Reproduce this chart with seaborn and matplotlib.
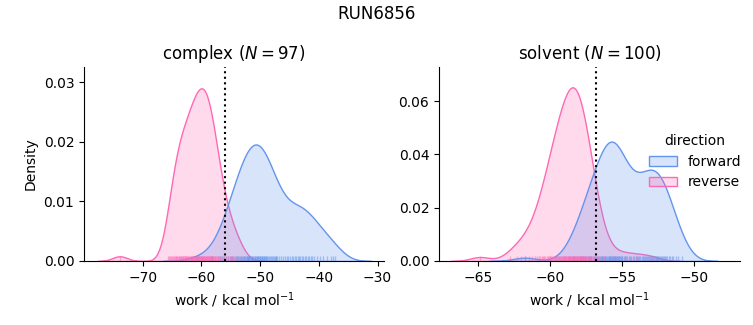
import numpy as np
import pandas as pd
import matplotlib
matplotlib.use("Agg")
import matplotlib.pyplot as plt
import seaborn as sns

# ---- data (work values, kcal/mol) ----
complex_reverse = [
    -73.9,
    -65.62, -65.45, -65.28, -65.11, -64.95, -64.78,
    -64.64, -64.52, -64.39, -64.27, -64.13, -64.01, -63.88, -63.76,
    -63.65, -63.54, -63.43, -63.31, -63.2, -63.08, -62.97, -62.86, -62.75,
    -62.66, -62.55, -62.45, -62.36, -62.24, -62.15, -61.94, -61.84, -61.74,
    -61.66, -61.58, -61.49, -61.41, -61.33, -61.24, -61.16, -61.08, -60.99, -60.91, -60.83, -60.74,
    -60.67, -60.53, -60.46, -60.39, -60.32, -60.18, -60.11, -60.04, -59.96, -59.89, -59.82, -59.75,
    -59.66, -59.57, -59.49, -59.41, -59.32, -59.24, -59.16, -59.07, -58.99, -58.91, -58.82, -58.74,
    -58.64, -58.6, -58.53, -58.42, -58.31, -58.25, -58.2, -58.09, -57.98, -57.87, -57.76,
    -57.62, -57.45, -57.28, -57.2, -57.11, -56.95, -56.78,
    -56.58, -56.33, -56.08, -55.83,
    -55.53, -55.2, -54.87,
    -54.45, -53.95,
    -53.2,
]
complex_forward = [
    -60.5, -58.2,
    -56.8, -56.45, -56.1, -55.8, -55.5, -55.2,
    -54.9, -54.72, -54.55, -54.36, -54.18, -54.0, -53.82, -53.64, -53.45, -53.27, -53.09,
    -52.94, -52.81, -52.69, -52.56, -52.44, -52.31, -52.19, -52.06, -52.0,
    -51.94, -51.81, -51.69, -51.56, -51.44, -51.31, -51.19, -51.06,
    -50.94, -50.83, -50.72, -50.61, -50.5, -50.39, -50.28, -50.17, -50.06,
    -49.94, -49.83, -49.72, -49.61, -49.5, -49.39, -49.28, -49.17, -49.06,
    -48.92, -48.77, -48.62, -48.46, -48.31, -48.15, -48.0, -47.85, -47.69, -47.54, -47.38, -47.23, -47.08,
    -46.83, -46.5, -46.17, -45.83, -45.5, -45.17,
    -44.88, -44.63, -44.38, -44.13, -43.88, -43.63, -43.38, -43.13,
    -42.88, -42.63, -42.38, -42.13, -41.88, -41.63, -41.38, -41.13,
    -40.75, -40.25, -39.75, -39.25,
    -38.67, -38.0, -37.6, -37.2,
]
solvent_reverse = [
    -64.85,
    -62.8, -62.3,
    -61.98, -61.72, -61.48, -61.22,
    -61.04, -60.91, -60.79, -60.66,
    -60.56, -60.48, -60.39, -60.31, -60.23, -60.14,
    -60.07, -60.02, -59.96, -59.91, -59.85, -59.79, -59.74, -59.68, -59.63,
    -59.58, -59.53, -59.49, -59.44, -59.4, -59.35, -59.3, -59.26, -59.21, -59.17, -59.12,
    -59.08, -59.04, -59.0, -58.97, -58.93, -58.89, -58.85, -58.81, -58.77, -58.73, -58.7, -58.66, -58.62,
    -58.58, -58.54, -58.5, -58.47, -58.45, -58.43, -58.39, -58.37, -58.35, -58.31, -58.27, -58.23, -58.2, -58.16, -58.12,
    -58.08, -58.05, -58.01, -57.98, -57.94, -57.9, -57.87, -57.83, -57.8, -57.76, -57.73, -57.69, -57.65, -57.62,
    -57.58, -57.53, -57.48, -57.43, -57.38, -57.33, -57.28, -57.23, -57.18, -57.13,
    -57.05, -56.95, -56.85, -56.75, -56.65,
    -56.48, -56.23,
    -55.5, -54.8, -54.0, -53.0,
]
solvent_forward = [
    -61.75,
    -58.7,
    -58.35, -58.12,
    -57.94, -57.81, -57.69, -57.56,
    -57.46, -57.38, -57.29, -57.21, -57.13, -57.04,
    -56.96, -56.89, -56.82, -56.75, -56.68, -56.61, -56.54,
    -56.47, -56.41, -56.36, -56.3, -56.25, -56.19, -56.14, -56.08, -56.03,
    -55.97, -55.92, -55.87, -55.82, -55.8, -55.77, -55.72, -55.67, -55.62, -55.57, -55.52,
    -55.47, -55.45, -55.42, -55.37, -55.32, -55.27, -55.22, -55.17, -55.12, -55.07, -55.02,
    -54.96, -54.88, -54.79, -54.71, -54.63, -54.54,
    -54.46, -54.38, -54.21, -54.13, -54.04,
    -53.96, -53.88, -53.79, -53.71, -53.63, -53.54,
    -53.46, -53.39, -53.32, -53.25, -53.18, -53.11, -53.04,
    -52.97, -52.91, -52.84, -52.78, -52.72, -52.66, -52.59, -52.53,
    -52.47, -52.41, -52.34, -52.28, -52.22, -52.16, -52.09, -52.03,
    -51.95, -51.85, -51.75, -51.65, -51.55,
    -51.42, -51.25, -51.08,
    -50.8,
]
phases = ["complex", "solvent"]
n_pairs = [97, 100]
dg_estimates = [-56.0, -56.8]
directions = ["forward", "reverse"]
colors = ["cornflowerblue", "hotpink"]
suptitle = "RUN6856"

frames = []
for phase, fwd, rev in [("complex", complex_forward, complex_reverse),
                        ("solvent", solvent_forward, solvent_reverse)]:
    frames.append(pd.DataFrame({"work": fwd, "direction": "forward", "phase": phase}))
    frames.append(pd.DataFrame({"work": rev, "direction": "reverse", "phase": phase}))
df = pd.concat(frames, ignore_index=True)

g = sns.displot(
    data=df, x="work", hue="direction", col="phase", kind="kde",
    fill=True, rug=True, hue_order=directions,
    palette=dict(zip(directions, colors)),
    rug_kws=dict(alpha=0.5),
    facet_kws=dict(sharex=False, sharey=False),
    height=3.0, aspect=1.2,
)
fig = g.figure
fig.set_size_inches(7.53, 3.25)
fig.set_dpi(100)

axes = g.axes.flatten()
positions = [[84 / 753, 1 - 261 / 325, 300 / 753, 194 / 325],
             [439 / 753, 1 - 261 / 325, 301 / 753, 194 / 325]]
xlims = [(-80.0, -28.9), (-67.7, -46.8)]
ylims = [(0, 0.0326), (0, 0.0728)]
xticks = [[-70, -60, -50, -40, -30], [-65, -60, -55, -50]]
yticks = [[0.0, 0.01, 0.02, 0.03], [0.0, 0.02, 0.04, 0.06]]
for ax, phase, n, dg, pos, xl, yl, xt, yt in zip(axes, phases, n_pairs, dg_estimates,
                                                positions, xlims, ylims, xticks, yticks):
    ax.set_position(pos)
    ax.axvline(dg, color="k", ls=":", lw=1.5)
    ax.set_title(f"{phase} ($N={n}$)", fontsize=12)
    ax.set_xlabel("work / kcal mol$^{-1}$")
    ax.set_xticks(xt)
    ax.set_yticks(yt)
    ax.set_xlim(*xl)
    ax.set_ylim(*yl)
axes[0].set_ylabel("Density")
axes[1].set_ylabel("")

sns.move_legend(g, "center", bbox_to_anchor=(0.923, 0.503), frameon=False)
fig.suptitle(suptitle, fontsize=12, y=0.985)

fig.savefig("out.png", dpi=100)
